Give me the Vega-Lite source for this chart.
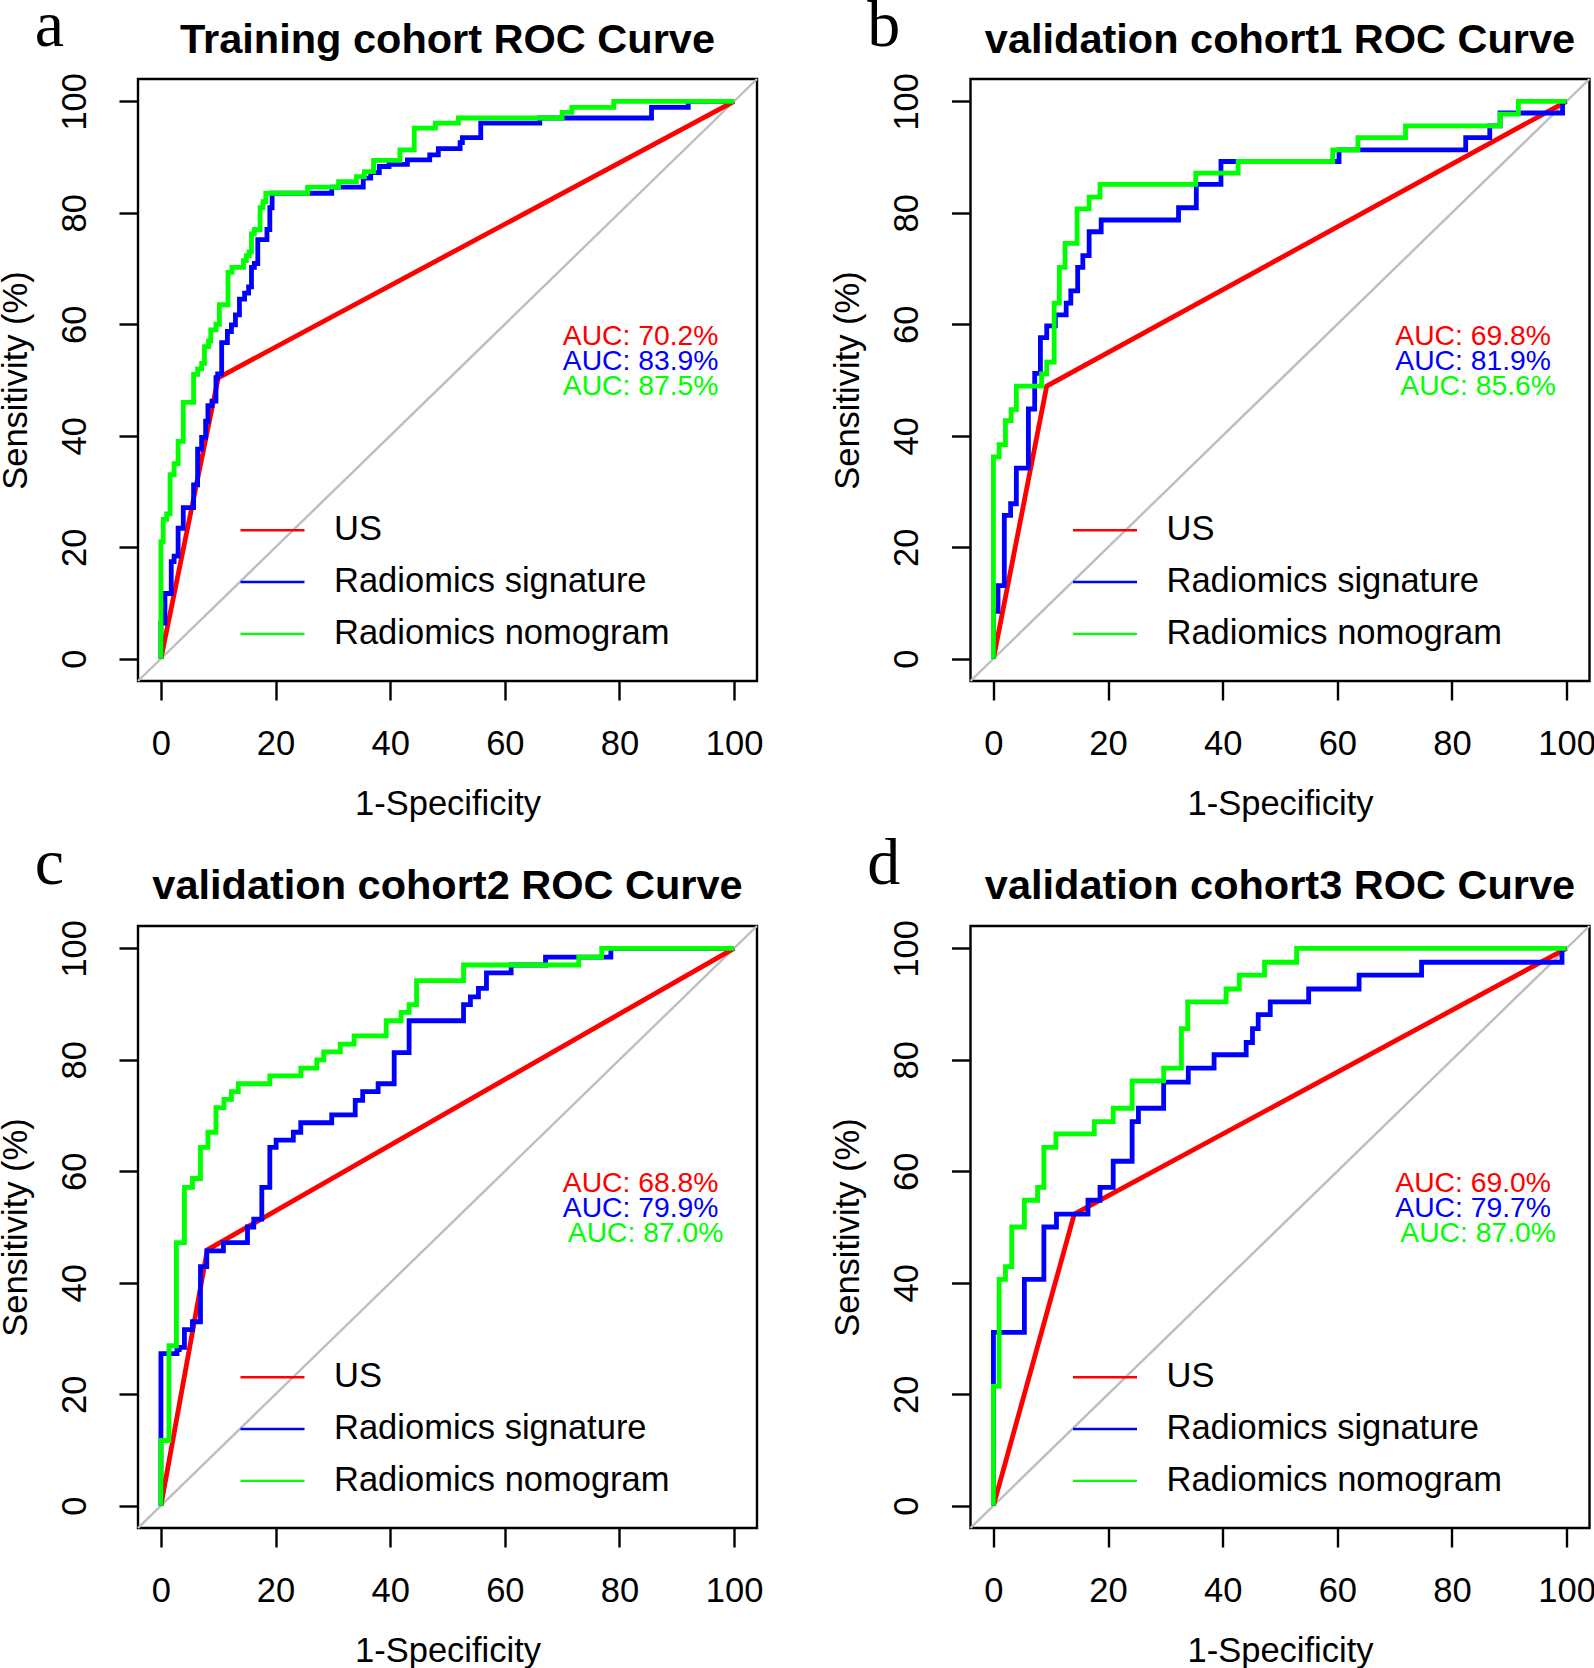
{
"$schema": "https://vega.github.io/schema/vega-lite/v6.json",
"autosize": {"type": "none"},
"padding": {"left": 138, "top": 79, "right": 1456, "bottom": 1589},
"background": "white",
"datasets": {
"roc": [
{"p":"a","m":"US","i":0,"fpr":0,"tpr":0},{"p":"a","m":"US","i":1,"fpr":10,"tpr":50.4},{"p":"a","m":"US","i":2,"fpr":100,"tpr":100},
{"p":"a","m":"Radiomics signature","i":0,"fpr":0,"tpr":0},{"p":"a","m":"Radiomics signature","i":1,"fpr":0,"tpr":6.4},{"p":"a","m":"Radiomics signature","i":2,"fpr":0.7,"tpr":6.4},{"p":"a","m":"Radiomics signature","i":3,"fpr":0.7,"tpr":11.7},{"p":"a","m":"Radiomics signature","i":4,"fpr":1.8,"tpr":11.7},{"p":"a","m":"Radiomics signature","i":5,"fpr":1.8,"tpr":17.4},{"p":"a","m":"Radiomics signature","i":6,"fpr":2.3,"tpr":17.4},{"p":"a","m":"Radiomics signature","i":7,"fpr":2.3,"tpr":18.4},{"p":"a","m":"Radiomics signature","i":8,"fpr":3,"tpr":18.4},{"p":"a","m":"Radiomics signature","i":9,"fpr":3,"tpr":23.4},{"p":"a","m":"Radiomics signature","i":10,"fpr":3.9,"tpr":23.4},{"p":"a","m":"Radiomics signature","i":11,"fpr":3.9,"tpr":27.1},{"p":"a","m":"Radiomics signature","i":12,"fpr":5.7,"tpr":27.1},{"p":"a","m":"Radiomics signature","i":13,"fpr":5.7,"tpr":31.2},{"p":"a","m":"Radiomics signature","i":14,"fpr":6.4,"tpr":31.2},{"p":"a","m":"Radiomics signature","i":15,"fpr":6.4,"tpr":37.6},{"p":"a","m":"Radiomics signature","i":16,"fpr":7.1,"tpr":37.6},{"p":"a","m":"Radiomics signature","i":17,"fpr":7.1,"tpr":39.7},{"p":"a","m":"Radiomics signature","i":18,"fpr":7.8,"tpr":39.7},{"p":"a","m":"Radiomics signature","i":19,"fpr":7.8,"tpr":42.6},{"p":"a","m":"Radiomics signature","i":20,"fpr":8.2,"tpr":42.6},{"p":"a","m":"Radiomics signature","i":21,"fpr":8.2,"tpr":45.4},{"p":"a","m":"Radiomics signature","i":22,"fpr":8.9,"tpr":45.4},{"p":"a","m":"Radiomics signature","i":23,"fpr":8.9,"tpr":46.2},{"p":"a","m":"Radiomics signature","i":24,"fpr":9.6,"tpr":46.2},{"p":"a","m":"Radiomics signature","i":25,"fpr":9.6,"tpr":50.4},{"p":"a","m":"Radiomics signature","i":26,"fpr":9.9,"tpr":50.4},{"p":"a","m":"Radiomics signature","i":27,"fpr":9.9,"tpr":51.1},{"p":"a","m":"Radiomics signature","i":28,"fpr":10.6,"tpr":51.1},{"p":"a","m":"Radiomics signature","i":29,"fpr":10.6,"tpr":56.7},{"p":"a","m":"Radiomics signature","i":30,"fpr":11.6,"tpr":56.7},{"p":"a","m":"Radiomics signature","i":31,"fpr":11.6,"tpr":58.7},{"p":"a","m":"Radiomics signature","i":32,"fpr":12.3,"tpr":58.7},{"p":"a","m":"Radiomics signature","i":33,"fpr":12.3,"tpr":59.9},{"p":"a","m":"Radiomics signature","i":34,"fpr":13,"tpr":59.9},{"p":"a","m":"Radiomics signature","i":35,"fpr":13,"tpr":61.7},{"p":"a","m":"Radiomics signature","i":36,"fpr":13.7,"tpr":61.7},{"p":"a","m":"Radiomics signature","i":37,"fpr":13.7,"tpr":64.5},{"p":"a","m":"Radiomics signature","i":38,"fpr":14.6,"tpr":64.5},{"p":"a","m":"Radiomics signature","i":39,"fpr":14.6,"tpr":65.6},{"p":"a","m":"Radiomics signature","i":40,"fpr":15.3,"tpr":65.6},{"p":"a","m":"Radiomics signature","i":41,"fpr":15.3,"tpr":66.7},{"p":"a","m":"Radiomics signature","i":42,"fpr":15.8,"tpr":66.7},{"p":"a","m":"Radiomics signature","i":43,"fpr":15.8,"tpr":70.2},{"p":"a","m":"Radiomics signature","i":44,"fpr":16.3,"tpr":70.2},{"p":"a","m":"Radiomics signature","i":45,"fpr":16.3,"tpr":70.9},{"p":"a","m":"Radiomics signature","i":46,"fpr":16.9,"tpr":70.9},{"p":"a","m":"Radiomics signature","i":47,"fpr":16.9,"tpr":75.2},{"p":"a","m":"Radiomics signature","i":48,"fpr":18.5,"tpr":75.2},{"p":"a","m":"Radiomics signature","i":49,"fpr":18.5,"tpr":77},{"p":"a","m":"Radiomics signature","i":50,"fpr":19,"tpr":77},{"p":"a","m":"Radiomics signature","i":51,"fpr":19,"tpr":80.9},{"p":"a","m":"Radiomics signature","i":52,"fpr":19.4,"tpr":80.9},{"p":"a","m":"Radiomics signature","i":53,"fpr":19.4,"tpr":83.5},{"p":"a","m":"Radiomics signature","i":54,"fpr":29.8,"tpr":83.5},{"p":"a","m":"Radiomics signature","i":55,"fpr":29.8,"tpr":84.6},{"p":"a","m":"Radiomics signature","i":56,"fpr":35.3,"tpr":84.6},{"p":"a","m":"Radiomics signature","i":57,"fpr":35.3,"tpr":86.2},{"p":"a","m":"Radiomics signature","i":58,"fpr":36.6,"tpr":86.2},{"p":"a","m":"Radiomics signature","i":59,"fpr":36.6,"tpr":87.2},{"p":"a","m":"Radiomics signature","i":60,"fpr":38.1,"tpr":87.2},{"p":"a","m":"Radiomics signature","i":61,"fpr":38.1,"tpr":88.3},{"p":"a","m":"Radiomics signature","i":62,"fpr":39.8,"tpr":88.3},{"p":"a","m":"Radiomics signature","i":63,"fpr":39.8,"tpr":88.7},{"p":"a","m":"Radiomics signature","i":64,"fpr":43,"tpr":88.7},{"p":"a","m":"Radiomics signature","i":65,"fpr":43,"tpr":89.5},{"p":"a","m":"Radiomics signature","i":66,"fpr":46.9,"tpr":89.5},{"p":"a","m":"Radiomics signature","i":67,"fpr":46.9,"tpr":90.4},{"p":"a","m":"Radiomics signature","i":68,"fpr":48.4,"tpr":90.4},{"p":"a","m":"Radiomics signature","i":69,"fpr":48.4,"tpr":91.5},{"p":"a","m":"Radiomics signature","i":70,"fpr":52.2,"tpr":91.5},{"p":"a","m":"Radiomics signature","i":71,"fpr":52.2,"tpr":92.6},{"p":"a","m":"Radiomics signature","i":72,"fpr":52.6,"tpr":92.6},{"p":"a","m":"Radiomics signature","i":73,"fpr":52.6,"tpr":93.5},{"p":"a","m":"Radiomics signature","i":74,"fpr":55.8,"tpr":93.5},{"p":"a","m":"Radiomics signature","i":75,"fpr":55.8,"tpr":96.1},{"p":"a","m":"Radiomics signature","i":76,"fpr":66.1,"tpr":96.1},{"p":"a","m":"Radiomics signature","i":77,"fpr":66.1,"tpr":97},{"p":"a","m":"Radiomics signature","i":78,"fpr":85.6,"tpr":97},{"p":"a","m":"Radiomics signature","i":79,"fpr":85.6,"tpr":98.9},{"p":"a","m":"Radiomics signature","i":80,"fpr":92,"tpr":98.9},{"p":"a","m":"Radiomics signature","i":81,"fpr":92,"tpr":100},{"p":"a","m":"Radiomics signature","i":82,"fpr":100,"tpr":100},
{"p":"a","m":"Radiomics nomogram","i":0,"fpr":0,"tpr":0},{"p":"a","m":"Radiomics nomogram","i":1,"fpr":0,"tpr":21},{"p":"a","m":"Radiomics nomogram","i":2,"fpr":0.4,"tpr":21},{"p":"a","m":"Radiomics nomogram","i":3,"fpr":0.4,"tpr":25},{"p":"a","m":"Radiomics nomogram","i":4,"fpr":1,"tpr":25},{"p":"a","m":"Radiomics nomogram","i":5,"fpr":1,"tpr":26},{"p":"a","m":"Radiomics nomogram","i":6,"fpr":1.6,"tpr":26},{"p":"a","m":"Radiomics nomogram","i":7,"fpr":1.6,"tpr":33},{"p":"a","m":"Radiomics nomogram","i":8,"fpr":2.3,"tpr":33},{"p":"a","m":"Radiomics nomogram","i":9,"fpr":2.3,"tpr":35},{"p":"a","m":"Radiomics nomogram","i":10,"fpr":3,"tpr":35},{"p":"a","m":"Radiomics nomogram","i":11,"fpr":3,"tpr":39},{"p":"a","m":"Radiomics nomogram","i":12,"fpr":3.9,"tpr":39},{"p":"a","m":"Radiomics nomogram","i":13,"fpr":3.9,"tpr":46},{"p":"a","m":"Radiomics nomogram","i":14,"fpr":5.7,"tpr":46},{"p":"a","m":"Radiomics nomogram","i":15,"fpr":5.7,"tpr":51},{"p":"a","m":"Radiomics nomogram","i":16,"fpr":6.4,"tpr":51},{"p":"a","m":"Radiomics nomogram","i":17,"fpr":6.4,"tpr":52},{"p":"a","m":"Radiomics nomogram","i":18,"fpr":7.1,"tpr":52},{"p":"a","m":"Radiomics nomogram","i":19,"fpr":7.1,"tpr":53},{"p":"a","m":"Radiomics nomogram","i":20,"fpr":7.6,"tpr":53},{"p":"a","m":"Radiomics nomogram","i":21,"fpr":7.6,"tpr":56},{"p":"a","m":"Radiomics nomogram","i":22,"fpr":8.3,"tpr":56},{"p":"a","m":"Radiomics nomogram","i":23,"fpr":8.3,"tpr":57},{"p":"a","m":"Radiomics nomogram","i":24,"fpr":8.7,"tpr":57},{"p":"a","m":"Radiomics nomogram","i":25,"fpr":8.7,"tpr":59},{"p":"a","m":"Radiomics nomogram","i":26,"fpr":9.6,"tpr":59},{"p":"a","m":"Radiomics nomogram","i":27,"fpr":9.6,"tpr":60},{"p":"a","m":"Radiomics nomogram","i":28,"fpr":10.2,"tpr":60},{"p":"a","m":"Radiomics nomogram","i":29,"fpr":10.2,"tpr":63.5},{"p":"a","m":"Radiomics nomogram","i":30,"fpr":11.7,"tpr":63.5},{"p":"a","m":"Radiomics nomogram","i":31,"fpr":11.7,"tpr":69.3},{"p":"a","m":"Radiomics nomogram","i":32,"fpr":12.4,"tpr":69.3},{"p":"a","m":"Radiomics nomogram","i":33,"fpr":12.4,"tpr":70.2},{"p":"a","m":"Radiomics nomogram","i":34,"fpr":14.4,"tpr":70.2},{"p":"a","m":"Radiomics nomogram","i":35,"fpr":14.4,"tpr":71.4},{"p":"a","m":"Radiomics nomogram","i":36,"fpr":14.9,"tpr":71.4},{"p":"a","m":"Radiomics nomogram","i":37,"fpr":14.9,"tpr":72.3},{"p":"a","m":"Radiomics nomogram","i":38,"fpr":15.4,"tpr":72.3},{"p":"a","m":"Radiomics nomogram","i":39,"fpr":15.4,"tpr":73},{"p":"a","m":"Radiomics nomogram","i":40,"fpr":15.8,"tpr":73},{"p":"a","m":"Radiomics nomogram","i":41,"fpr":15.8,"tpr":76.2},{"p":"a","m":"Radiomics nomogram","i":42,"fpr":16.3,"tpr":76.2},{"p":"a","m":"Radiomics nomogram","i":43,"fpr":16.3,"tpr":77},{"p":"a","m":"Radiomics nomogram","i":44,"fpr":17.3,"tpr":77},{"p":"a","m":"Radiomics nomogram","i":45,"fpr":17.3,"tpr":80.9},{"p":"a","m":"Radiomics nomogram","i":46,"fpr":17.8,"tpr":80.9},{"p":"a","m":"Radiomics nomogram","i":47,"fpr":17.8,"tpr":82},{"p":"a","m":"Radiomics nomogram","i":48,"fpr":18.3,"tpr":82},{"p":"a","m":"Radiomics nomogram","i":49,"fpr":18.3,"tpr":83.5},{"p":"a","m":"Radiomics nomogram","i":50,"fpr":25.6,"tpr":83.5},{"p":"a","m":"Radiomics nomogram","i":51,"fpr":25.6,"tpr":84.6},{"p":"a","m":"Radiomics nomogram","i":52,"fpr":31,"tpr":84.6},{"p":"a","m":"Radiomics nomogram","i":53,"fpr":31,"tpr":85.6},{"p":"a","m":"Radiomics nomogram","i":54,"fpr":34.1,"tpr":85.6},{"p":"a","m":"Radiomics nomogram","i":55,"fpr":34.1,"tpr":86.5},{"p":"a","m":"Radiomics nomogram","i":56,"fpr":35.5,"tpr":86.5},{"p":"a","m":"Radiomics nomogram","i":57,"fpr":35.5,"tpr":87.4},{"p":"a","m":"Radiomics nomogram","i":58,"fpr":37.1,"tpr":87.4},{"p":"a","m":"Radiomics nomogram","i":59,"fpr":37.1,"tpr":89.4},{"p":"a","m":"Radiomics nomogram","i":60,"fpr":41.7,"tpr":89.4},{"p":"a","m":"Radiomics nomogram","i":61,"fpr":41.7,"tpr":91.3},{"p":"a","m":"Radiomics nomogram","i":62,"fpr":44.2,"tpr":91.3},{"p":"a","m":"Radiomics nomogram","i":63,"fpr":44.2,"tpr":95.2},{"p":"a","m":"Radiomics nomogram","i":64,"fpr":47.9,"tpr":95.2},{"p":"a","m":"Radiomics nomogram","i":65,"fpr":47.9,"tpr":96.1},{"p":"a","m":"Radiomics nomogram","i":66,"fpr":51.9,"tpr":96.1},{"p":"a","m":"Radiomics nomogram","i":67,"fpr":51.9,"tpr":97},{"p":"a","m":"Radiomics nomogram","i":68,"fpr":70,"tpr":97},{"p":"a","m":"Radiomics nomogram","i":69,"fpr":70,"tpr":98},{"p":"a","m":"Radiomics nomogram","i":70,"fpr":71.7,"tpr":98},{"p":"a","m":"Radiomics nomogram","i":71,"fpr":71.7,"tpr":98.9},{"p":"a","m":"Radiomics nomogram","i":72,"fpr":79,"tpr":98.9},{"p":"a","m":"Radiomics nomogram","i":73,"fpr":79,"tpr":100},{"p":"a","m":"Radiomics nomogram","i":74,"fpr":100,"tpr":100},
{"p":"b","m":"US","i":0,"fpr":0,"tpr":0},{"p":"b","m":"US","i":1,"fpr":9.3,"tpr":48.9},{"p":"b","m":"US","i":2,"fpr":100,"tpr":100},
{"p":"b","m":"Radiomics signature","i":0,"fpr":0,"tpr":0},{"p":"b","m":"Radiomics signature","i":1,"fpr":0,"tpr":8.5},{"p":"b","m":"Radiomics signature","i":2,"fpr":0.8,"tpr":8.5},{"p":"b","m":"Radiomics signature","i":3,"fpr":0.8,"tpr":13.1},{"p":"b","m":"Radiomics signature","i":4,"fpr":1.9,"tpr":13.1},{"p":"b","m":"Radiomics signature","i":5,"fpr":1.9,"tpr":25.7},{"p":"b","m":"Radiomics signature","i":6,"fpr":3,"tpr":25.7},{"p":"b","m":"Radiomics signature","i":7,"fpr":3,"tpr":27.8},{"p":"b","m":"Radiomics signature","i":8,"fpr":4,"tpr":27.8},{"p":"b","m":"Radiomics signature","i":9,"fpr":4,"tpr":34.2},{"p":"b","m":"Radiomics signature","i":10,"fpr":6.1,"tpr":34.2},{"p":"b","m":"Radiomics signature","i":11,"fpr":6.1,"tpr":44.8},{"p":"b","m":"Radiomics signature","i":12,"fpr":7.2,"tpr":44.8},{"p":"b","m":"Radiomics signature","i":13,"fpr":7.2,"tpr":51.2},{"p":"b","m":"Radiomics signature","i":14,"fpr":8.2,"tpr":51.2},{"p":"b","m":"Radiomics signature","i":15,"fpr":8.2,"tpr":57.6},{"p":"b","m":"Radiomics signature","i":16,"fpr":9.3,"tpr":57.6},{"p":"b","m":"Radiomics signature","i":17,"fpr":9.3,"tpr":59.7},{"p":"b","m":"Radiomics signature","i":18,"fpr":10.8,"tpr":59.7},{"p":"b","m":"Radiomics signature","i":19,"fpr":10.8,"tpr":61.7},{"p":"b","m":"Radiomics signature","i":20,"fpr":12.7,"tpr":61.7},{"p":"b","m":"Radiomics signature","i":21,"fpr":12.7,"tpr":63.8},{"p":"b","m":"Radiomics signature","i":22,"fpr":13.5,"tpr":63.8},{"p":"b","m":"Radiomics signature","i":23,"fpr":13.5,"tpr":66},{"p":"b","m":"Radiomics signature","i":24,"fpr":14.7,"tpr":66},{"p":"b","m":"Radiomics signature","i":25,"fpr":14.7,"tpr":70.2},{"p":"b","m":"Radiomics signature","i":26,"fpr":15.6,"tpr":70.2},{"p":"b","m":"Radiomics signature","i":27,"fpr":15.6,"tpr":72.3},{"p":"b","m":"Radiomics signature","i":28,"fpr":16.7,"tpr":72.3},{"p":"b","m":"Radiomics signature","i":29,"fpr":16.7,"tpr":76.6},{"p":"b","m":"Radiomics signature","i":30,"fpr":18.8,"tpr":76.6},{"p":"b","m":"Radiomics signature","i":31,"fpr":18.8,"tpr":78.7},{"p":"b","m":"Radiomics signature","i":32,"fpr":32.3,"tpr":78.7},{"p":"b","m":"Radiomics signature","i":33,"fpr":32.3,"tpr":80.9},{"p":"b","m":"Radiomics signature","i":34,"fpr":35.4,"tpr":80.9},{"p":"b","m":"Radiomics signature","i":35,"fpr":35.4,"tpr":85.1},{"p":"b","m":"Radiomics signature","i":36,"fpr":39.7,"tpr":85.1},{"p":"b","m":"Radiomics signature","i":37,"fpr":39.7,"tpr":89.2},{"p":"b","m":"Radiomics signature","i":38,"fpr":60.3,"tpr":89.2},{"p":"b","m":"Radiomics signature","i":39,"fpr":60.3,"tpr":91.3},{"p":"b","m":"Radiomics signature","i":40,"fpr":82.4,"tpr":91.3},{"p":"b","m":"Radiomics signature","i":41,"fpr":82.4,"tpr":93.5},{"p":"b","m":"Radiomics signature","i":42,"fpr":86.6,"tpr":93.5},{"p":"b","m":"Radiomics signature","i":43,"fpr":86.6,"tpr":95.6},{"p":"b","m":"Radiomics signature","i":44,"fpr":88.4,"tpr":95.6},{"p":"b","m":"Radiomics signature","i":45,"fpr":88.4,"tpr":97.9},{"p":"b","m":"Radiomics signature","i":46,"fpr":99.3,"tpr":97.9},{"p":"b","m":"Radiomics signature","i":47,"fpr":99.3,"tpr":100},{"p":"b","m":"Radiomics signature","i":48,"fpr":100,"tpr":100},
{"p":"b","m":"Radiomics nomogram","i":0,"fpr":0,"tpr":0},{"p":"b","m":"Radiomics nomogram","i":1,"fpr":0,"tpr":36.2},{"p":"b","m":"Radiomics nomogram","i":2,"fpr":1,"tpr":36.2},{"p":"b","m":"Radiomics nomogram","i":3,"fpr":1,"tpr":38.4},{"p":"b","m":"Radiomics nomogram","i":4,"fpr":2.1,"tpr":38.4},{"p":"b","m":"Radiomics nomogram","i":5,"fpr":2.1,"tpr":42.7},{"p":"b","m":"Radiomics nomogram","i":6,"fpr":3.1,"tpr":42.7},{"p":"b","m":"Radiomics nomogram","i":7,"fpr":3.1,"tpr":44.7},{"p":"b","m":"Radiomics nomogram","i":8,"fpr":4,"tpr":44.7},{"p":"b","m":"Radiomics nomogram","i":9,"fpr":4,"tpr":48.9},{"p":"b","m":"Radiomics nomogram","i":10,"fpr":8.4,"tpr":48.9},{"p":"b","m":"Radiomics nomogram","i":11,"fpr":8.4,"tpr":51.1},{"p":"b","m":"Radiomics nomogram","i":12,"fpr":9.3,"tpr":51.1},{"p":"b","m":"Radiomics nomogram","i":13,"fpr":9.3,"tpr":53.2},{"p":"b","m":"Radiomics nomogram","i":14,"fpr":10.6,"tpr":53.2},{"p":"b","m":"Radiomics nomogram","i":15,"fpr":10.6,"tpr":63.8},{"p":"b","m":"Radiomics nomogram","i":16,"fpr":11.5,"tpr":63.8},{"p":"b","m":"Radiomics nomogram","i":17,"fpr":11.5,"tpr":70.2},{"p":"b","m":"Radiomics nomogram","i":18,"fpr":12.5,"tpr":70.2},{"p":"b","m":"Radiomics nomogram","i":19,"fpr":12.5,"tpr":74.5},{"p":"b","m":"Radiomics nomogram","i":20,"fpr":14.6,"tpr":74.5},{"p":"b","m":"Radiomics nomogram","i":21,"fpr":14.6,"tpr":80.7},{"p":"b","m":"Radiomics nomogram","i":22,"fpr":16.7,"tpr":80.7},{"p":"b","m":"Radiomics nomogram","i":23,"fpr":16.7,"tpr":82.8},{"p":"b","m":"Radiomics nomogram","i":24,"fpr":18.6,"tpr":82.8},{"p":"b","m":"Radiomics nomogram","i":25,"fpr":18.6,"tpr":85.1},{"p":"b","m":"Radiomics nomogram","i":26,"fpr":35.3,"tpr":85.1},{"p":"b","m":"Radiomics nomogram","i":27,"fpr":35.3,"tpr":87.1},{"p":"b","m":"Radiomics nomogram","i":28,"fpr":42.7,"tpr":87.1},{"p":"b","m":"Radiomics nomogram","i":29,"fpr":42.7,"tpr":89.2},{"p":"b","m":"Radiomics nomogram","i":30,"fpr":59.2,"tpr":89.2},{"p":"b","m":"Radiomics nomogram","i":31,"fpr":59.2,"tpr":91.3},{"p":"b","m":"Radiomics nomogram","i":32,"fpr":63.6,"tpr":91.3},{"p":"b","m":"Radiomics nomogram","i":33,"fpr":63.6,"tpr":93.5},{"p":"b","m":"Radiomics nomogram","i":34,"fpr":71.9,"tpr":93.5},{"p":"b","m":"Radiomics nomogram","i":35,"fpr":71.9,"tpr":95.6},{"p":"b","m":"Radiomics nomogram","i":36,"fpr":88.4,"tpr":95.6},{"p":"b","m":"Radiomics nomogram","i":37,"fpr":88.4,"tpr":97.7},{"p":"b","m":"Radiomics nomogram","i":38,"fpr":91.6,"tpr":97.7},{"p":"b","m":"Radiomics nomogram","i":39,"fpr":91.6,"tpr":100},{"p":"b","m":"Radiomics nomogram","i":40,"fpr":100,"tpr":100},
{"p":"c","m":"US","i":0,"fpr":0,"tpr":0},{"p":"c","m":"US","i":1,"fpr":8.1,"tpr":45.9},{"p":"c","m":"US","i":2,"fpr":100,"tpr":100},
{"p":"c","m":"Radiomics signature","i":0,"fpr":0,"tpr":0},{"p":"c","m":"Radiomics signature","i":1,"fpr":0,"tpr":27.3},{"p":"c","m":"Radiomics signature","i":2,"fpr":2.8,"tpr":27.3},{"p":"c","m":"Radiomics signature","i":3,"fpr":2.8,"tpr":28},{"p":"c","m":"Radiomics signature","i":4,"fpr":3.2,"tpr":28},{"p":"c","m":"Radiomics signature","i":5,"fpr":3.2,"tpr":28.4},{"p":"c","m":"Radiomics signature","i":6,"fpr":4.1,"tpr":28.4},{"p":"c","m":"Radiomics signature","i":7,"fpr":4.1,"tpr":31.6},{"p":"c","m":"Radiomics signature","i":8,"fpr":5.5,"tpr":31.6},{"p":"c","m":"Radiomics signature","i":9,"fpr":5.5,"tpr":33},{"p":"c","m":"Radiomics signature","i":10,"fpr":6.9,"tpr":33},{"p":"c","m":"Radiomics signature","i":11,"fpr":6.9,"tpr":42.9},{"p":"c","m":"Radiomics signature","i":12,"fpr":8,"tpr":42.9},{"p":"c","m":"Radiomics signature","i":13,"fpr":8,"tpr":45.7},{"p":"c","m":"Radiomics signature","i":14,"fpr":10.9,"tpr":45.7},{"p":"c","m":"Radiomics signature","i":15,"fpr":10.9,"tpr":47.2},{"p":"c","m":"Radiomics signature","i":16,"fpr":15.1,"tpr":47.2},{"p":"c","m":"Radiomics signature","i":17,"fpr":15.1,"tpr":50},{"p":"c","m":"Radiomics signature","i":18,"fpr":16.2,"tpr":50},{"p":"c","m":"Radiomics signature","i":19,"fpr":16.2,"tpr":51.4},{"p":"c","m":"Radiomics signature","i":20,"fpr":17.6,"tpr":51.4},{"p":"c","m":"Radiomics signature","i":21,"fpr":17.6,"tpr":57.1},{"p":"c","m":"Radiomics signature","i":22,"fpr":19,"tpr":57.1},{"p":"c","m":"Radiomics signature","i":23,"fpr":19,"tpr":64.3},{"p":"c","m":"Radiomics signature","i":24,"fpr":20.1,"tpr":64.3},{"p":"c","m":"Radiomics signature","i":25,"fpr":20.1,"tpr":65.6},{"p":"c","m":"Radiomics signature","i":26,"fpr":23.1,"tpr":65.6},{"p":"c","m":"Radiomics signature","i":27,"fpr":23.1,"tpr":67},{"p":"c","m":"Radiomics signature","i":28,"fpr":24.4,"tpr":67},{"p":"c","m":"Radiomics signature","i":29,"fpr":24.4,"tpr":68.7},{"p":"c","m":"Radiomics signature","i":30,"fpr":29.8,"tpr":68.7},{"p":"c","m":"Radiomics signature","i":31,"fpr":29.8,"tpr":70.1},{"p":"c","m":"Radiomics signature","i":32,"fpr":33.9,"tpr":70.1},{"p":"c","m":"Radiomics signature","i":33,"fpr":33.9,"tpr":72.7},{"p":"c","m":"Radiomics signature","i":34,"fpr":35.2,"tpr":72.7},{"p":"c","m":"Radiomics signature","i":35,"fpr":35.2,"tpr":74.3},{"p":"c","m":"Radiomics signature","i":36,"fpr":37.9,"tpr":74.3},{"p":"c","m":"Radiomics signature","i":37,"fpr":37.9,"tpr":75.7},{"p":"c","m":"Radiomics signature","i":38,"fpr":40.7,"tpr":75.7},{"p":"c","m":"Radiomics signature","i":39,"fpr":40.7,"tpr":81.3},{"p":"c","m":"Radiomics signature","i":40,"fpr":43.3,"tpr":81.3},{"p":"c","m":"Radiomics signature","i":41,"fpr":43.3,"tpr":87},{"p":"c","m":"Radiomics signature","i":42,"fpr":52.8,"tpr":87},{"p":"c","m":"Radiomics signature","i":43,"fpr":52.8,"tpr":89.9},{"p":"c","m":"Radiomics signature","i":44,"fpr":54,"tpr":89.9},{"p":"c","m":"Radiomics signature","i":45,"fpr":54,"tpr":91.3},{"p":"c","m":"Radiomics signature","i":46,"fpr":55.4,"tpr":91.3},{"p":"c","m":"Radiomics signature","i":47,"fpr":55.4,"tpr":92.8},{"p":"c","m":"Radiomics signature","i":48,"fpr":56.8,"tpr":92.8},{"p":"c","m":"Radiomics signature","i":49,"fpr":56.8,"tpr":95.6},{"p":"c","m":"Radiomics signature","i":50,"fpr":61.1,"tpr":95.6},{"p":"c","m":"Radiomics signature","i":51,"fpr":61.1,"tpr":97},{"p":"c","m":"Radiomics signature","i":52,"fpr":67.1,"tpr":97},{"p":"c","m":"Radiomics signature","i":53,"fpr":67.1,"tpr":98.4},{"p":"c","m":"Radiomics signature","i":54,"fpr":78.5,"tpr":98.4},{"p":"c","m":"Radiomics signature","i":55,"fpr":78.5,"tpr":100},{"p":"c","m":"Radiomics signature","i":56,"fpr":100,"tpr":100},
{"p":"c","m":"Radiomics nomogram","i":0,"fpr":0,"tpr":0},{"p":"c","m":"Radiomics nomogram","i":1,"fpr":0,"tpr":11.7},{"p":"c","m":"Radiomics nomogram","i":2,"fpr":1.4,"tpr":11.7},{"p":"c","m":"Radiomics nomogram","i":3,"fpr":1.4,"tpr":28.7},{"p":"c","m":"Radiomics nomogram","i":4,"fpr":2.7,"tpr":28.7},{"p":"c","m":"Radiomics nomogram","i":5,"fpr":2.7,"tpr":47.2},{"p":"c","m":"Radiomics nomogram","i":6,"fpr":4.1,"tpr":47.2},{"p":"c","m":"Radiomics nomogram","i":7,"fpr":4.1,"tpr":57.1},{"p":"c","m":"Radiomics nomogram","i":8,"fpr":5.5,"tpr":57.1},{"p":"c","m":"Radiomics nomogram","i":9,"fpr":5.5,"tpr":58.7},{"p":"c","m":"Radiomics nomogram","i":10,"fpr":6.9,"tpr":58.7},{"p":"c","m":"Radiomics nomogram","i":11,"fpr":6.9,"tpr":64.3},{"p":"c","m":"Radiomics nomogram","i":12,"fpr":8.2,"tpr":64.3},{"p":"c","m":"Radiomics nomogram","i":13,"fpr":8.2,"tpr":67},{"p":"c","m":"Radiomics nomogram","i":14,"fpr":9.6,"tpr":67},{"p":"c","m":"Radiomics nomogram","i":15,"fpr":9.6,"tpr":71.4},{"p":"c","m":"Radiomics nomogram","i":16,"fpr":11,"tpr":71.4},{"p":"c","m":"Radiomics nomogram","i":17,"fpr":11,"tpr":72.9},{"p":"c","m":"Radiomics nomogram","i":18,"fpr":12.3,"tpr":72.9},{"p":"c","m":"Radiomics nomogram","i":19,"fpr":12.3,"tpr":74.3},{"p":"c","m":"Radiomics nomogram","i":20,"fpr":13.5,"tpr":74.3},{"p":"c","m":"Radiomics nomogram","i":21,"fpr":13.5,"tpr":75.7},{"p":"c","m":"Radiomics nomogram","i":22,"fpr":19,"tpr":75.7},{"p":"c","m":"Radiomics nomogram","i":23,"fpr":19,"tpr":77.1},{"p":"c","m":"Radiomics nomogram","i":24,"fpr":24.4,"tpr":77.1},{"p":"c","m":"Radiomics nomogram","i":25,"fpr":24.4,"tpr":78.5},{"p":"c","m":"Radiomics nomogram","i":26,"fpr":27.2,"tpr":78.5},{"p":"c","m":"Radiomics nomogram","i":27,"fpr":27.2,"tpr":80},{"p":"c","m":"Radiomics nomogram","i":28,"fpr":28.4,"tpr":80},{"p":"c","m":"Radiomics nomogram","i":29,"fpr":28.4,"tpr":81.4},{"p":"c","m":"Radiomics nomogram","i":30,"fpr":31.3,"tpr":81.4},{"p":"c","m":"Radiomics nomogram","i":31,"fpr":31.3,"tpr":82.8},{"p":"c","m":"Radiomics nomogram","i":32,"fpr":33.7,"tpr":82.8},{"p":"c","m":"Radiomics nomogram","i":33,"fpr":33.7,"tpr":84.3},{"p":"c","m":"Radiomics nomogram","i":34,"fpr":39.3,"tpr":84.3},{"p":"c","m":"Radiomics nomogram","i":35,"fpr":39.3,"tpr":87},{"p":"c","m":"Radiomics nomogram","i":36,"fpr":41.9,"tpr":87},{"p":"c","m":"Radiomics nomogram","i":37,"fpr":41.9,"tpr":88.5},{"p":"c","m":"Radiomics nomogram","i":38,"fpr":43.3,"tpr":88.5},{"p":"c","m":"Radiomics nomogram","i":39,"fpr":43.3,"tpr":89.9},{"p":"c","m":"Radiomics nomogram","i":40,"fpr":44.6,"tpr":89.9},{"p":"c","m":"Radiomics nomogram","i":41,"fpr":44.6,"tpr":94.2},{"p":"c","m":"Radiomics nomogram","i":42,"fpr":52.8,"tpr":94.2},{"p":"c","m":"Radiomics nomogram","i":43,"fpr":52.8,"tpr":97},{"p":"c","m":"Radiomics nomogram","i":44,"fpr":72.9,"tpr":97},{"p":"c","m":"Radiomics nomogram","i":45,"fpr":72.9,"tpr":98.4},{"p":"c","m":"Radiomics nomogram","i":46,"fpr":76.9,"tpr":98.4},{"p":"c","m":"Radiomics nomogram","i":47,"fpr":76.9,"tpr":100},{"p":"c","m":"Radiomics nomogram","i":48,"fpr":100,"tpr":100},
{"p":"d","m":"US","i":0,"fpr":0,"tpr":0},{"p":"d","m":"US","i":1,"fpr":14.1,"tpr":52.3},{"p":"d","m":"US","i":2,"fpr":100,"tpr":100},
{"p":"d","m":"Radiomics signature","i":0,"fpr":0,"tpr":0},{"p":"d","m":"Radiomics signature","i":1,"fpr":0,"tpr":31.1},{"p":"d","m":"Radiomics signature","i":2,"fpr":5.4,"tpr":31.1},{"p":"d","m":"Radiomics signature","i":3,"fpr":5.4,"tpr":40.6},{"p":"d","m":"Radiomics signature","i":4,"fpr":8.8,"tpr":40.6},{"p":"d","m":"Radiomics signature","i":5,"fpr":8.8,"tpr":50},{"p":"d","m":"Radiomics signature","i":6,"fpr":11,"tpr":50},{"p":"d","m":"Radiomics signature","i":7,"fpr":11,"tpr":52.3},{"p":"d","m":"Radiomics signature","i":8,"fpr":16.5,"tpr":52.3},{"p":"d","m":"Radiomics signature","i":9,"fpr":16.5,"tpr":54.8},{"p":"d","m":"Radiomics signature","i":10,"fpr":18.6,"tpr":54.8},{"p":"d","m":"Radiomics signature","i":11,"fpr":18.6,"tpr":57.1},{"p":"d","m":"Radiomics signature","i":12,"fpr":20.9,"tpr":57.1},{"p":"d","m":"Radiomics signature","i":13,"fpr":20.9,"tpr":61.8},{"p":"d","m":"Radiomics signature","i":14,"fpr":24.2,"tpr":61.8},{"p":"d","m":"Radiomics signature","i":15,"fpr":24.2,"tpr":68.9},{"p":"d","m":"Radiomics signature","i":16,"fpr":25.3,"tpr":68.9},{"p":"d","m":"Radiomics signature","i":17,"fpr":25.3,"tpr":71.3},{"p":"d","m":"Radiomics signature","i":18,"fpr":29.7,"tpr":71.3},{"p":"d","m":"Radiomics signature","i":19,"fpr":29.7,"tpr":76},{"p":"d","m":"Radiomics signature","i":20,"fpr":34,"tpr":76},{"p":"d","m":"Radiomics signature","i":21,"fpr":34,"tpr":78.5},{"p":"d","m":"Radiomics signature","i":22,"fpr":38.5,"tpr":78.5},{"p":"d","m":"Radiomics signature","i":23,"fpr":38.5,"tpr":80.9},{"p":"d","m":"Radiomics signature","i":24,"fpr":44.1,"tpr":80.9},{"p":"d","m":"Radiomics signature","i":25,"fpr":44.1,"tpr":83.1},{"p":"d","m":"Radiomics signature","i":26,"fpr":45.2,"tpr":83.1},{"p":"d","m":"Radiomics signature","i":27,"fpr":45.2,"tpr":85.6},{"p":"d","m":"Radiomics signature","i":28,"fpr":46.2,"tpr":85.6},{"p":"d","m":"Radiomics signature","i":29,"fpr":46.2,"tpr":88.1},{"p":"d","m":"Radiomics signature","i":30,"fpr":48.3,"tpr":88.1},{"p":"d","m":"Radiomics signature","i":31,"fpr":48.3,"tpr":90.4},{"p":"d","m":"Radiomics signature","i":32,"fpr":55,"tpr":90.4},{"p":"d","m":"Radiomics signature","i":33,"fpr":55,"tpr":92.7},{"p":"d","m":"Radiomics signature","i":34,"fpr":63.8,"tpr":92.7},{"p":"d","m":"Radiomics signature","i":35,"fpr":63.8,"tpr":95.2},{"p":"d","m":"Radiomics signature","i":36,"fpr":74.7,"tpr":95.2},{"p":"d","m":"Radiomics signature","i":37,"fpr":74.7,"tpr":97.5},{"p":"d","m":"Radiomics signature","i":38,"fpr":99.2,"tpr":97.5},{"p":"d","m":"Radiomics signature","i":39,"fpr":99.2,"tpr":100},{"p":"d","m":"Radiomics signature","i":40,"fpr":100,"tpr":100},
{"p":"d","m":"Radiomics nomogram","i":0,"fpr":0,"tpr":0},{"p":"d","m":"Radiomics nomogram","i":1,"fpr":0,"tpr":21.4},{"p":"d","m":"Radiomics nomogram","i":2,"fpr":1,"tpr":21.4},{"p":"d","m":"Radiomics nomogram","i":3,"fpr":1,"tpr":40.6},{"p":"d","m":"Radiomics nomogram","i":4,"fpr":2.1,"tpr":40.6},{"p":"d","m":"Radiomics nomogram","i":5,"fpr":2.1,"tpr":42.9},{"p":"d","m":"Radiomics nomogram","i":6,"fpr":3.2,"tpr":42.9},{"p":"d","m":"Radiomics nomogram","i":7,"fpr":3.2,"tpr":50},{"p":"d","m":"Radiomics nomogram","i":8,"fpr":5.4,"tpr":50},{"p":"d","m":"Radiomics nomogram","i":9,"fpr":5.4,"tpr":54.8},{"p":"d","m":"Radiomics nomogram","i":10,"fpr":7.7,"tpr":54.8},{"p":"d","m":"Radiomics nomogram","i":11,"fpr":7.7,"tpr":57.1},{"p":"d","m":"Radiomics nomogram","i":12,"fpr":8.8,"tpr":57.1},{"p":"d","m":"Radiomics nomogram","i":13,"fpr":8.8,"tpr":64.3},{"p":"d","m":"Radiomics nomogram","i":14,"fpr":10.9,"tpr":64.3},{"p":"d","m":"Radiomics nomogram","i":15,"fpr":10.9,"tpr":66.7},{"p":"d","m":"Radiomics nomogram","i":16,"fpr":17.6,"tpr":66.7},{"p":"d","m":"Radiomics nomogram","i":17,"fpr":17.6,"tpr":68.9},{"p":"d","m":"Radiomics nomogram","i":18,"fpr":20.9,"tpr":68.9},{"p":"d","m":"Radiomics nomogram","i":19,"fpr":20.9,"tpr":71.3},{"p":"d","m":"Radiomics nomogram","i":20,"fpr":24.2,"tpr":71.3},{"p":"d","m":"Radiomics nomogram","i":21,"fpr":24.2,"tpr":76.2},{"p":"d","m":"Radiomics nomogram","i":22,"fpr":29.7,"tpr":76.2},{"p":"d","m":"Radiomics nomogram","i":23,"fpr":29.7,"tpr":78.5},{"p":"d","m":"Radiomics nomogram","i":24,"fpr":32.8,"tpr":78.5},{"p":"d","m":"Radiomics nomogram","i":25,"fpr":32.8,"tpr":85.6},{"p":"d","m":"Radiomics nomogram","i":26,"fpr":33.9,"tpr":85.6},{"p":"d","m":"Radiomics nomogram","i":27,"fpr":33.9,"tpr":90.4},{"p":"d","m":"Radiomics nomogram","i":28,"fpr":40.6,"tpr":90.4},{"p":"d","m":"Radiomics nomogram","i":29,"fpr":40.6,"tpr":92.7},{"p":"d","m":"Radiomics nomogram","i":30,"fpr":42.9,"tpr":92.7},{"p":"d","m":"Radiomics nomogram","i":31,"fpr":42.9,"tpr":95.2},{"p":"d","m":"Radiomics nomogram","i":32,"fpr":47.3,"tpr":95.2},{"p":"d","m":"Radiomics nomogram","i":33,"fpr":47.3,"tpr":97.5},{"p":"d","m":"Radiomics nomogram","i":34,"fpr":52.9,"tpr":97.5},{"p":"d","m":"Radiomics nomogram","i":35,"fpr":52.9,"tpr":100},{"p":"d","m":"Radiomics nomogram","i":36,"fpr":100,"tpr":100}
],
"auc": [
{"p":"a","m":"US","t":"AUC: 70.2%"},{"p":"a","m":"Radiomics signature","t":"AUC: 83.9%"},{"p":"a","m":"Radiomics nomogram","t":"AUC: 87.5%"},
{"p":"b","m":"US","t":"AUC: 69.8%"},{"p":"b","m":"Radiomics signature","t":"AUC: 81.9%"},{"p":"b","m":"Radiomics nomogram","t":"AUC: 85.6%"},
{"p":"c","m":"US","t":"AUC: 68.8%"},{"p":"c","m":"Radiomics signature","t":"AUC: 79.9%"},{"p":"c","m":"Radiomics nomogram","t":"AUC: 87.0%"},
{"p":"d","m":"US","t":"AUC: 69.0%"},{"p":"d","m":"Radiomics signature","t":"AUC: 79.7%"},{"p":"d","m":"Radiomics nomogram","t":"AUC: 87.0%"}
],
"lab": [
{"p":"a","t":"a","h":"Training cohort ROC Curve"},
{"p":"b","t":"b","h":"validation cohort1 ROC Curve"},
{"p":"c","t":"c","h":"validation cohort2 ROC Curve"},
{"p":"d","t":"d","h":"validation cohort3 ROC Curve"}
]
},
"columns": 2,
"spacing": {"row": 245, "column": 213.5},
"bounds": "flush",
"resolve": {"legend": {"color": "independent"}},
"concat": [
{"width": 619, "height": 602, "layer": [
{"data": {"values": [{}]}, "mark": {"type": "rule", "color": "#BEBEBE", "strokeWidth": 2.4}, "encoding": {"x": {"datum": -4, "type": "quantitative", "scale": {"domain": [-4, 104], "nice": false, "zero": false}, "axis": {"values": [0, 20, 40, 60, 80, 100]}, "title": "1-Specificity"}, "y": {"datum": -4, "type": "quantitative", "scale": {"domain": [-4, 104], "nice": false, "zero": false}, "axis": {"values": [0, 20, 40, 60, 80, 100]}, "title": "Sensitivity (%)"}, "x2": {"datum": 104}, "y2": {"datum": 104}}},
{"data": {"name": "roc"}, "transform": [{"filter": "datum.p == 'a' && datum.m == 'US'"}], "mark": {"type": "line", "strokeWidth": 4.8}, "encoding": {"x": {"field": "fpr", "type": "quantitative", "title": "1-Specificity"}, "y": {"field": "tpr", "type": "quantitative", "title": "Sensitivity (%)"}, "order": {"field": "i", "type": "quantitative"}, "color": {"field": "m", "type": "nominal", "title": null, "scale": {"domain": ["US", "Radiomics signature", "Radiomics nomogram"], "range": ["#FF0000", "#0000FF", "#00FF00"]}, "legend": {"orient": "none", "legendX": 101, "legendY": 434}}}},
{"data": {"name": "roc"}, "transform": [{"filter": "datum.p == 'a' && datum.m == 'Radiomics signature'"}], "mark": {"type": "line", "strokeWidth": 4.8}, "encoding": {"x": {"field": "fpr", "type": "quantitative", "title": "1-Specificity"}, "y": {"field": "tpr", "type": "quantitative", "title": "Sensitivity (%)"}, "order": {"field": "i", "type": "quantitative"}, "color": {"field": "m", "type": "nominal", "title": null, "scale": {"domain": ["US", "Radiomics signature", "Radiomics nomogram"], "range": ["#FF0000", "#0000FF", "#00FF00"]}, "legend": {"orient": "none", "legendX": 101, "legendY": 434}}}},
{"data": {"name": "roc"}, "transform": [{"filter": "datum.p == 'a' && datum.m == 'Radiomics nomogram'"}], "mark": {"type": "line", "strokeWidth": 4.8}, "encoding": {"x": {"field": "fpr", "type": "quantitative", "title": "1-Specificity"}, "y": {"field": "tpr", "type": "quantitative", "title": "Sensitivity (%)"}, "order": {"field": "i", "type": "quantitative"}, "color": {"field": "m", "type": "nominal", "title": null, "scale": {"domain": ["US", "Radiomics signature", "Radiomics nomogram"], "range": ["#FF0000", "#0000FF", "#00FF00"]}, "legend": {"orient": "none", "legendX": 101, "legendY": 434}}}},
{"data": {"name": "auc"}, "transform": [{"filter": "datum.p == 'a' && datum.m == 'US'"}], "mark": {"type": "text", "font": "Liberation Sans", "fontSize": 28.3, "align": "center", "baseline": "alphabetic", "color": "#FF0000"}, "encoding": {"text": {"field": "t"}, "x": {"datum": 83.7}, "y": {"datum": 56.2}}},
{"data": {"name": "auc"}, "transform": [{"filter": "datum.p == 'a' && datum.m == 'Radiomics signature'"}], "mark": {"type": "text", "font": "Liberation Sans", "fontSize": 28.3, "align": "center", "baseline": "alphabetic", "color": "#0000FF"}, "encoding": {"text": {"field": "t"}, "x": {"datum": 83.7}, "y": {"datum": 51.8}}},
{"data": {"name": "auc"}, "transform": [{"filter": "datum.p == 'a' && datum.m == 'Radiomics nomogram'"}], "mark": {"type": "text", "font": "Liberation Sans", "fontSize": 28.3, "align": "center", "baseline": "alphabetic", "color": "#00FF00"}, "encoding": {"text": {"field": "t"}, "x": {"datum": 83.7}, "y": {"datum": 47.3}}},
{"data": {"name": "lab"}, "transform": [{"filter": "datum.p == 'a'"}], "mark": {"type": "text", "font": "Liberation Serif", "fontSize": 66, "align": "left", "baseline": "alphabetic", "color": "black"}, "encoding": {"text": {"field": "t"}, "x": {"datum": -22}, "y": {"datum": 110}}},
{"data": {"name": "lab"}, "transform": [{"filter": "datum.p == 'a'"}], "mark": {"type": "text", "font": "Liberation Sans", "fontSize": 41.5, "fontWeight": "bold", "align": "center", "baseline": "alphabetic", "color": "black"}, "encoding": {"text": {"field": "h"}, "x": {"datum": 50}, "y": {"datum": 108.7}}}
]},
{"width": 619, "height": 602, "layer": [
{"data": {"values": [{}]}, "mark": {"type": "rule", "color": "#BEBEBE", "strokeWidth": 2.4}, "encoding": {"x": {"datum": -4, "type": "quantitative", "scale": {"domain": [-4, 104], "nice": false, "zero": false}, "axis": {"values": [0, 20, 40, 60, 80, 100]}, "title": "1-Specificity"}, "y": {"datum": -4, "type": "quantitative", "scale": {"domain": [-4, 104], "nice": false, "zero": false}, "axis": {"values": [0, 20, 40, 60, 80, 100]}, "title": "Sensitivity (%)"}, "x2": {"datum": 104}, "y2": {"datum": 104}}},
{"data": {"name": "roc"}, "transform": [{"filter": "datum.p == 'b' && datum.m == 'US'"}], "mark": {"type": "line", "strokeWidth": 4.8}, "encoding": {"x": {"field": "fpr", "type": "quantitative", "title": "1-Specificity"}, "y": {"field": "tpr", "type": "quantitative", "title": "Sensitivity (%)"}, "order": {"field": "i", "type": "quantitative"}, "color": {"field": "m", "type": "nominal", "title": null, "scale": {"domain": ["US", "Radiomics signature", "Radiomics nomogram"], "range": ["#FF0000", "#0000FF", "#00FF00"]}, "legend": {"orient": "none", "legendX": 101, "legendY": 434}}}},
{"data": {"name": "roc"}, "transform": [{"filter": "datum.p == 'b' && datum.m == 'Radiomics signature'"}], "mark": {"type": "line", "strokeWidth": 4.8}, "encoding": {"x": {"field": "fpr", "type": "quantitative", "title": "1-Specificity"}, "y": {"field": "tpr", "type": "quantitative", "title": "Sensitivity (%)"}, "order": {"field": "i", "type": "quantitative"}, "color": {"field": "m", "type": "nominal", "title": null, "scale": {"domain": ["US", "Radiomics signature", "Radiomics nomogram"], "range": ["#FF0000", "#0000FF", "#00FF00"]}, "legend": {"orient": "none", "legendX": 101, "legendY": 434}}}},
{"data": {"name": "roc"}, "transform": [{"filter": "datum.p == 'b' && datum.m == 'Radiomics nomogram'"}], "mark": {"type": "line", "strokeWidth": 4.8}, "encoding": {"x": {"field": "fpr", "type": "quantitative", "title": "1-Specificity"}, "y": {"field": "tpr", "type": "quantitative", "title": "Sensitivity (%)"}, "order": {"field": "i", "type": "quantitative"}, "color": {"field": "m", "type": "nominal", "title": null, "scale": {"domain": ["US", "Radiomics signature", "Radiomics nomogram"], "range": ["#FF0000", "#0000FF", "#00FF00"]}, "legend": {"orient": "none", "legendX": 101, "legendY": 434}}}},
{"data": {"name": "auc"}, "transform": [{"filter": "datum.p == 'b' && datum.m == 'US'"}], "mark": {"type": "text", "font": "Liberation Sans", "fontSize": 28.3, "align": "center", "baseline": "alphabetic", "color": "#FF0000"}, "encoding": {"text": {"field": "t"}, "x": {"datum": 83.7}, "y": {"datum": 56.2}}},
{"data": {"name": "auc"}, "transform": [{"filter": "datum.p == 'b' && datum.m == 'Radiomics signature'"}], "mark": {"type": "text", "font": "Liberation Sans", "fontSize": 28.3, "align": "center", "baseline": "alphabetic", "color": "#0000FF"}, "encoding": {"text": {"field": "t"}, "x": {"datum": 83.7}, "y": {"datum": 51.8}}},
{"data": {"name": "auc"}, "transform": [{"filter": "datum.p == 'b' && datum.m == 'Radiomics nomogram'"}], "mark": {"type": "text", "font": "Liberation Sans", "fontSize": 28.3, "align": "center", "baseline": "alphabetic", "color": "#00FF00", "dx": 5}, "encoding": {"text": {"field": "t"}, "x": {"datum": 83.7}, "y": {"datum": 47.3}}},
{"data": {"name": "lab"}, "transform": [{"filter": "datum.p == 'b'"}], "mark": {"type": "text", "font": "Liberation Serif", "fontSize": 66, "align": "left", "baseline": "alphabetic", "color": "black"}, "encoding": {"text": {"field": "t"}, "x": {"datum": -22}, "y": {"datum": 110}}},
{"data": {"name": "lab"}, "transform": [{"filter": "datum.p == 'b'"}], "mark": {"type": "text", "font": "Liberation Sans", "fontSize": 41.5, "fontWeight": "bold", "align": "center", "baseline": "alphabetic", "color": "black"}, "encoding": {"text": {"field": "h"}, "x": {"datum": 50}, "y": {"datum": 108.7}}}
]},
{"width": 619, "height": 602, "layer": [
{"data": {"values": [{}]}, "mark": {"type": "rule", "color": "#BEBEBE", "strokeWidth": 2.4}, "encoding": {"x": {"datum": -4, "type": "quantitative", "scale": {"domain": [-4, 104], "nice": false, "zero": false}, "axis": {"values": [0, 20, 40, 60, 80, 100]}, "title": "1-Specificity"}, "y": {"datum": -4, "type": "quantitative", "scale": {"domain": [-4, 104], "nice": false, "zero": false}, "axis": {"values": [0, 20, 40, 60, 80, 100]}, "title": "Sensitivity (%)"}, "x2": {"datum": 104}, "y2": {"datum": 104}}},
{"data": {"name": "roc"}, "transform": [{"filter": "datum.p == 'c' && datum.m == 'US'"}], "mark": {"type": "line", "strokeWidth": 4.8}, "encoding": {"x": {"field": "fpr", "type": "quantitative", "title": "1-Specificity"}, "y": {"field": "tpr", "type": "quantitative", "title": "Sensitivity (%)"}, "order": {"field": "i", "type": "quantitative"}, "color": {"field": "m", "type": "nominal", "title": null, "scale": {"domain": ["US", "Radiomics signature", "Radiomics nomogram"], "range": ["#FF0000", "#0000FF", "#00FF00"]}, "legend": {"orient": "none", "legendX": 101, "legendY": 434}}}},
{"data": {"name": "roc"}, "transform": [{"filter": "datum.p == 'c' && datum.m == 'Radiomics signature'"}], "mark": {"type": "line", "strokeWidth": 4.8}, "encoding": {"x": {"field": "fpr", "type": "quantitative", "title": "1-Specificity"}, "y": {"field": "tpr", "type": "quantitative", "title": "Sensitivity (%)"}, "order": {"field": "i", "type": "quantitative"}, "color": {"field": "m", "type": "nominal", "title": null, "scale": {"domain": ["US", "Radiomics signature", "Radiomics nomogram"], "range": ["#FF0000", "#0000FF", "#00FF00"]}, "legend": {"orient": "none", "legendX": 101, "legendY": 434}}}},
{"data": {"name": "roc"}, "transform": [{"filter": "datum.p == 'c' && datum.m == 'Radiomics nomogram'"}], "mark": {"type": "line", "strokeWidth": 4.8}, "encoding": {"x": {"field": "fpr", "type": "quantitative", "title": "1-Specificity"}, "y": {"field": "tpr", "type": "quantitative", "title": "Sensitivity (%)"}, "order": {"field": "i", "type": "quantitative"}, "color": {"field": "m", "type": "nominal", "title": null, "scale": {"domain": ["US", "Radiomics signature", "Radiomics nomogram"], "range": ["#FF0000", "#0000FF", "#00FF00"]}, "legend": {"orient": "none", "legendX": 101, "legendY": 434}}}},
{"data": {"name": "auc"}, "transform": [{"filter": "datum.p == 'c' && datum.m == 'US'"}], "mark": {"type": "text", "font": "Liberation Sans", "fontSize": 28.3, "align": "center", "baseline": "alphabetic", "color": "#FF0000"}, "encoding": {"text": {"field": "t"}, "x": {"datum": 83.7}, "y": {"datum": 56.2}}},
{"data": {"name": "auc"}, "transform": [{"filter": "datum.p == 'c' && datum.m == 'Radiomics signature'"}], "mark": {"type": "text", "font": "Liberation Sans", "fontSize": 28.3, "align": "center", "baseline": "alphabetic", "color": "#0000FF"}, "encoding": {"text": {"field": "t"}, "x": {"datum": 83.7}, "y": {"datum": 51.8}}},
{"data": {"name": "auc"}, "transform": [{"filter": "datum.p == 'c' && datum.m == 'Radiomics nomogram'"}], "mark": {"type": "text", "font": "Liberation Sans", "fontSize": 28.3, "align": "center", "baseline": "alphabetic", "color": "#00FF00", "dx": 5}, "encoding": {"text": {"field": "t"}, "x": {"datum": 83.7}, "y": {"datum": 47.3}}},
{"data": {"name": "lab"}, "transform": [{"filter": "datum.p == 'c'"}], "mark": {"type": "text", "font": "Liberation Serif", "fontSize": 66, "align": "left", "baseline": "alphabetic", "color": "black"}, "encoding": {"text": {"field": "t"}, "x": {"datum": -22}, "y": {"datum": 111.5}}},
{"data": {"name": "lab"}, "transform": [{"filter": "datum.p == 'c'"}], "mark": {"type": "text", "font": "Liberation Sans", "fontSize": 41.5, "fontWeight": "bold", "align": "center", "baseline": "alphabetic", "color": "black"}, "encoding": {"text": {"field": "h"}, "x": {"datum": 50}, "y": {"datum": 108.8}}}
]},
{"width": 619, "height": 602, "layer": [
{"data": {"values": [{}]}, "mark": {"type": "rule", "color": "#BEBEBE", "strokeWidth": 2.4}, "encoding": {"x": {"datum": -4, "type": "quantitative", "scale": {"domain": [-4, 104], "nice": false, "zero": false}, "axis": {"values": [0, 20, 40, 60, 80, 100]}, "title": "1-Specificity"}, "y": {"datum": -4, "type": "quantitative", "scale": {"domain": [-4, 104], "nice": false, "zero": false}, "axis": {"values": [0, 20, 40, 60, 80, 100]}, "title": "Sensitivity (%)"}, "x2": {"datum": 104}, "y2": {"datum": 104}}},
{"data": {"name": "roc"}, "transform": [{"filter": "datum.p == 'd' && datum.m == 'US'"}], "mark": {"type": "line", "strokeWidth": 4.8}, "encoding": {"x": {"field": "fpr", "type": "quantitative", "title": "1-Specificity"}, "y": {"field": "tpr", "type": "quantitative", "title": "Sensitivity (%)"}, "order": {"field": "i", "type": "quantitative"}, "color": {"field": "m", "type": "nominal", "title": null, "scale": {"domain": ["US", "Radiomics signature", "Radiomics nomogram"], "range": ["#FF0000", "#0000FF", "#00FF00"]}, "legend": {"orient": "none", "legendX": 101, "legendY": 434}}}},
{"data": {"name": "roc"}, "transform": [{"filter": "datum.p == 'd' && datum.m == 'Radiomics signature'"}], "mark": {"type": "line", "strokeWidth": 4.8}, "encoding": {"x": {"field": "fpr", "type": "quantitative", "title": "1-Specificity"}, "y": {"field": "tpr", "type": "quantitative", "title": "Sensitivity (%)"}, "order": {"field": "i", "type": "quantitative"}, "color": {"field": "m", "type": "nominal", "title": null, "scale": {"domain": ["US", "Radiomics signature", "Radiomics nomogram"], "range": ["#FF0000", "#0000FF", "#00FF00"]}, "legend": {"orient": "none", "legendX": 101, "legendY": 434}}}},
{"data": {"name": "roc"}, "transform": [{"filter": "datum.p == 'd' && datum.m == 'Radiomics nomogram'"}], "mark": {"type": "line", "strokeWidth": 4.8}, "encoding": {"x": {"field": "fpr", "type": "quantitative", "title": "1-Specificity"}, "y": {"field": "tpr", "type": "quantitative", "title": "Sensitivity (%)"}, "order": {"field": "i", "type": "quantitative"}, "color": {"field": "m", "type": "nominal", "title": null, "scale": {"domain": ["US", "Radiomics signature", "Radiomics nomogram"], "range": ["#FF0000", "#0000FF", "#00FF00"]}, "legend": {"orient": "none", "legendX": 101, "legendY": 434}}}},
{"data": {"name": "auc"}, "transform": [{"filter": "datum.p == 'd' && datum.m == 'US'"}], "mark": {"type": "text", "font": "Liberation Sans", "fontSize": 28.3, "align": "center", "baseline": "alphabetic", "color": "#FF0000"}, "encoding": {"text": {"field": "t"}, "x": {"datum": 83.7}, "y": {"datum": 56.2}}},
{"data": {"name": "auc"}, "transform": [{"filter": "datum.p == 'd' && datum.m == 'Radiomics signature'"}], "mark": {"type": "text", "font": "Liberation Sans", "fontSize": 28.3, "align": "center", "baseline": "alphabetic", "color": "#0000FF"}, "encoding": {"text": {"field": "t"}, "x": {"datum": 83.7}, "y": {"datum": 51.8}}},
{"data": {"name": "auc"}, "transform": [{"filter": "datum.p == 'd' && datum.m == 'Radiomics nomogram'"}], "mark": {"type": "text", "font": "Liberation Sans", "fontSize": 28.3, "align": "center", "baseline": "alphabetic", "color": "#00FF00", "dx": 5}, "encoding": {"text": {"field": "t"}, "x": {"datum": 83.7}, "y": {"datum": 47.3}}},
{"data": {"name": "lab"}, "transform": [{"filter": "datum.p == 'd'"}], "mark": {"type": "text", "font": "Liberation Serif", "fontSize": 66, "align": "left", "baseline": "alphabetic", "color": "black"}, "encoding": {"text": {"field": "t"}, "x": {"datum": -22}, "y": {"datum": 111.5}}},
{"data": {"name": "lab"}, "transform": [{"filter": "datum.p == 'd'"}], "mark": {"type": "text", "font": "Liberation Sans", "fontSize": 41.5, "fontWeight": "bold", "align": "center", "baseline": "alphabetic", "color": "black"}, "encoding": {"text": {"field": "h"}, "x": {"datum": 50}, "y": {"datum": 108.8}}}
]}
],
"config": {
"font": "Liberation Sans",
"view": {"stroke": "black", "strokeWidth": 2.4, "fill": "white"},
"axis": {"domain": false, "grid": false, "ticks": true, "tickColor": "black", "tickWidth": 2.4, "tickSize": 19, "labelFont": "Liberation Sans", "labelFontSize": 34.5, "labelColor": "black", "labelFlush": false, "labelOverlap": false, "labelBound": false, "titleFont": "Liberation Sans", "titleFontSize": 34.5, "titleFontWeight": "normal", "titleColor": "black"},
"axisX": {"labelAngle": 0, "labelAlign": "center", "labelBaseline": "alphabetic", "labelPadding": 54, "titleBaseline": "alphabetic", "titleY": 133},
"axisY": {"labelAngle": -90, "labelAlign": "center", "labelBaseline": "alphabetic", "labelPadding": 34, "titleAngle": -90, "titleBaseline": "alphabetic", "titleX": -112},
"legend": {"symbolType": "stroke", "symbolSize": 4096, "symbolStrokeWidth": 2.4, "labelFont": "Liberation Sans", "labelFontSize": 34.5, "labelColor": "black", "labelOffset": 28, "labelLimit": 1000, "rowPadding": 15.8, "clipHeight": 34.5, "padding": 0, "symbolOffset": 0}
}
}
